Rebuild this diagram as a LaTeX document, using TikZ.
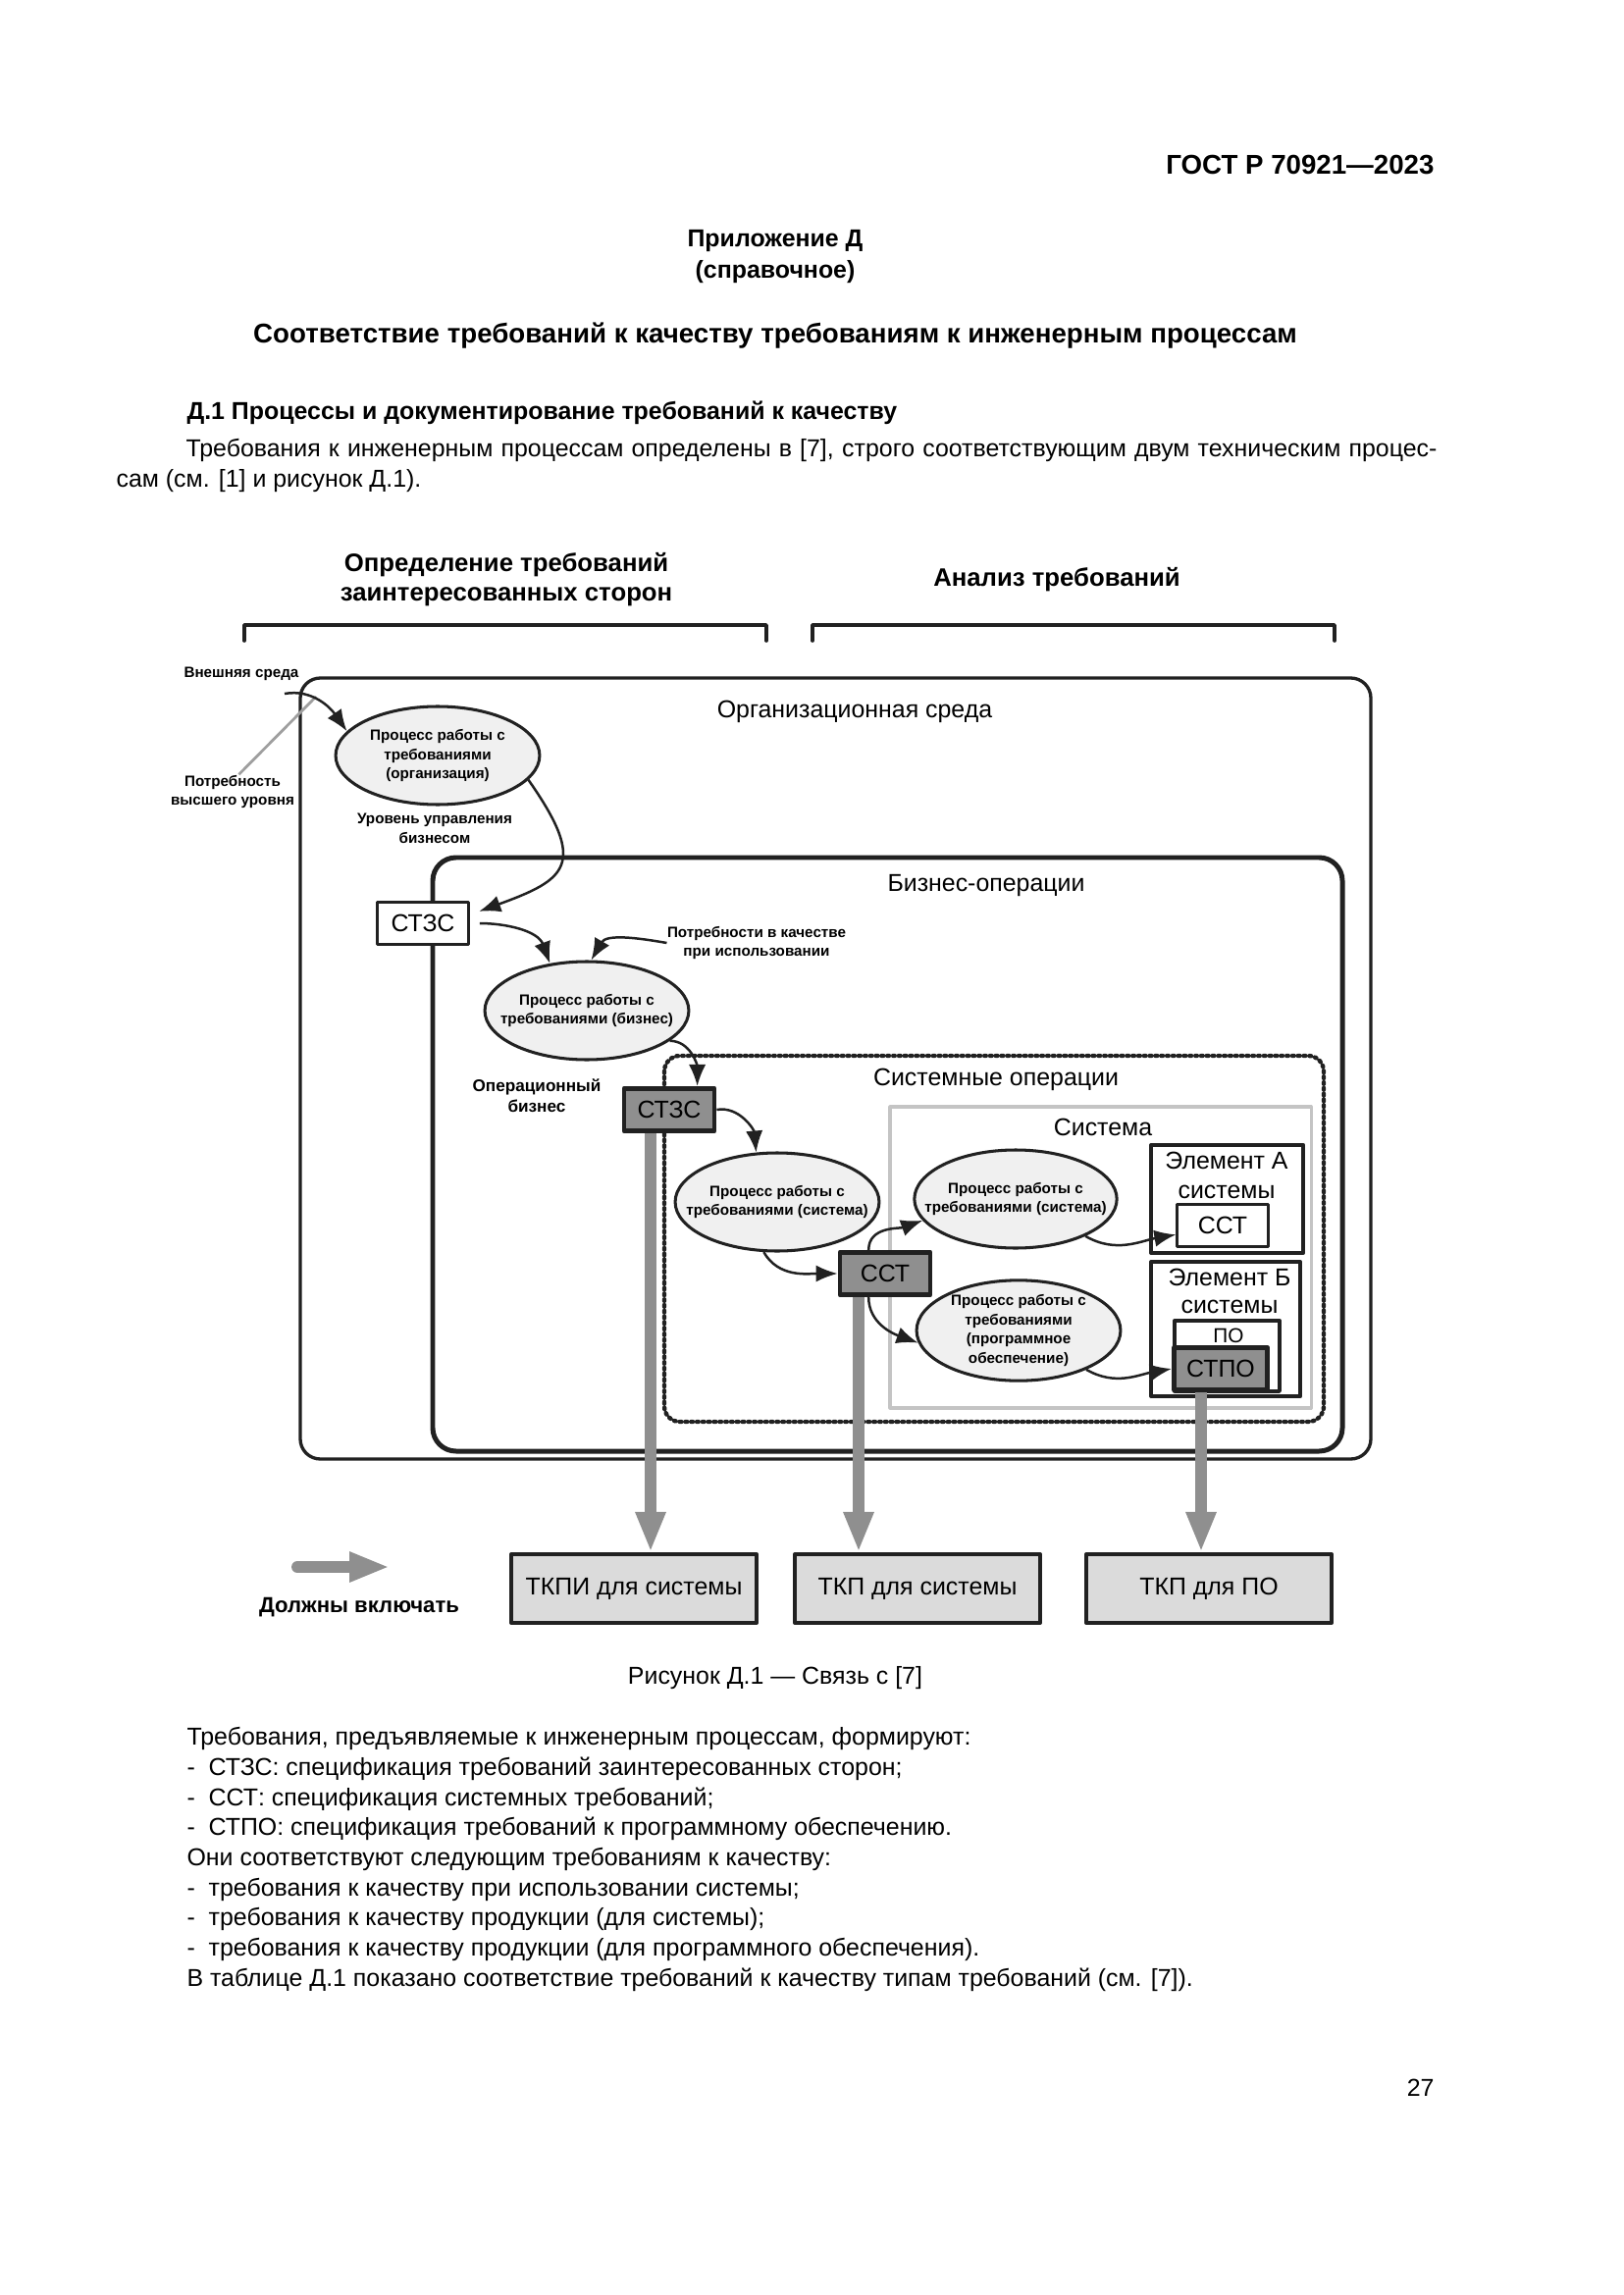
\documentclass[tikz,border=0pt]{standalone}
\usepackage{fontspec}
\setmainfont{Liberation Sans}
\usetikzlibrary{shapes.geometric,arrows.meta}
\definecolor{procfill}{gray}{0.94}
\definecolor{specfill}{gray}{0.56}
\definecolor{outfill}{gray}{0.86}
\definecolor{arrowgrey}{gray}{0.56}
\definecolor{sysgrey}{gray}{0.77}
\definecolor{inkblack}{gray}{0.13}
\begin{document}
\begin{tikzpicture}[x=0.127mm,y=-0.127mm,line join=round,
  procnode/.style={ellipse,draw=inkblack,fill=procfill,line width=1.1pt,inner xsep=-3.2mm,inner ysep=-0.6mm,align=center,
    font=\bfseries\fontsize{5.5}{7.2}\selectfont,minimum width=26.4mm,minimum height=12.7mm},
  specbox/.style={rectangle,draw=inkblack,fill=white,line width=1.1pt,inner sep=0pt,
    minimum width=11.7mm,minimum height=5.5mm,font=\fontsize{9}{10}\selectfont},
  specgrey/.style={fill=specfill,line width=1.7pt},
  notelbl/.style={align=center,inner sep=0pt,font=\bfseries\fontsize{5.5}{7.2}\selectfont},
  arealbl/.style={align=center,inner sep=0pt,font=\fontsize{9}{10.8}\selectfont},
  headlbl/.style={align=center,inner sep=0pt,font=\bfseries\fontsize{9.3}{10.8}\selectfont},
  outbox/.style={rectangle,draw=inkblack,fill=outfill,line width=1.5pt,inner sep=0pt,
    minimum width=31.7mm,minimum height=8.9mm,font=\fontsize{9}{10}\selectfont},
  bodytxt/.style={inner sep=0pt,anchor=west,font=\fontsize{9}{11}\selectfont},
  flowarrow/.style={draw=inkblack,line width=0.9pt,-{Latex[length=2.8mm,width=2.2mm]}},
  inclarrow/.style={draw=arrowgrey,line width=4.3pt,-{Triangle[length=5.2mm,width=3.6mm]}}]
\useasboundingbox (0,0) rectangle (1654,2339);

% page text above the figure
\node[inner sep=0pt,anchor=east,font=\bfseries\fontsize{10}{12}\selectfont] (gost) at (1462,168) {ГОСТ Р 70921—2023};
\node[inner sep=0pt,font=\bfseries\fontsize{9}{11}\selectfont] (annex) at (790,246) {Приложение Д};
\node[inner sep=0pt,font=\bfseries\fontsize{9}{11}\selectfont] (annexkind) at (790,277) {(справочное)};
\node[inner sep=0pt,font=\bfseries\fontsize{10}{12}\selectfont] (annextitle) at (790,342) {Соответствие требований к качеству требованиям к инженерным процессам};
\node[bodytxt,font=\bfseries\fontsize{9}{11}\selectfont] (sect) at (190,421) {Д.1 Процессы и документирование требований к качеству};
\node[bodytxt] (para1) at (189,459) {\makebox[161.9mm][s]{Требования к инженерным процессам определены в [7], строго соответствующим двум техническим процес-}};
\node[bodytxt] (para2) at (118,490) {сам (см. [1] и рисунок Д.1).};

% brackets and headings
\node[headlbl] (stakedef) at (516,591) {Определение требований\\заинтересованных сторон};
\node[headlbl] (reqanal) at (1077,591) {Анализ требований};
\draw[inkblack,line width=1.3pt,line cap=round](249,653)--(249,637)--(781,637)--(781,653);
\draw[inkblack,line width=1.3pt,line cap=round](828,653)--(828,637)--(1360,637)--(1360,653);

% nested environments
\draw[inkblack,line width=1.2pt,rounded corners=2.6mm](306,691) rectangle (1397,1487);
\draw[inkblack,line width=1.8pt,rounded corners=3mm](441,874) rectangle (1368,1479);
\draw[inkblack,line width=1.6pt,line cap=round,dash pattern=on 0.6pt off 1.5pt,rounded corners=2mm](677,1076) rectangle (1349,1449);
\draw[sysgrey,line width=1.1pt](907,1128) rectangle (1336,1435);
\draw[inkblack,line width=1.5pt](1173,1167) rectangle (1328,1277);
\draw[inkblack,line width=1.5pt](1173,1286) rectangle (1325,1423);
\draw[inkblack,line width=1.2pt](1197,1346) rectangle (1304,1418);

\node[arealbl] (orgenv) at (871,725) {Организационная среда};
\node[arealbl] (bizops) at (1005,903) {Бизнес-операции};
\node[arealbl] (sysops) at (1015,1100) {Системные операции};
\node[arealbl] (system) at (1124,1149) {Система};
\node[arealbl] (elemA) at (1250,1198) {Элемент А\\системы};
\node[arealbl,font=\fontsize{9}{10.1}\selectfont] (elemB) at (1253,1316) {Элемент Б\\системы};
\node[arealbl,font=\fontsize{7.5}{9}\selectfont] (swlbl) at (1252,1361) {ПО};

% notes
\node[notelbl] (extenv) at (246,687) {Внешняя среда};
\node[notelbl] (hneed) at (237,807) {Потребность\\высшего уровня};
\node[notelbl] (bizlvl) at (443,844) {Уровень управления\\бизнесом};
\node[notelbl] (qneeds) at (771,961) {Потребности в качестве\\при использовании};
\node[notelbl,font=\bfseries\fontsize{6.2}{7.6}\selectfont] (opbiz) at (547,1117) {Операционный\\бизнес};

% processes
\node[procnode] (orgproc) at (446,770) {Процесс работы с\\требованиями\\(организация)};
\node[procnode] (bizproc) at (598,1030) {Процесс работы с\\требованиями (бизнес)};
\node[procnode] (sysproc) at (792,1225) {Процесс работы с\\требованиями (система)};
\node[procnode,minimum width=26.2mm] (sysprocA) at (1035,1222) {Процесс работы с\\требованиями (система)};
\node[procnode,minimum height=13mm,inner ysep=-1.2mm] (swproc) at (1038,1356) {Процесс работы с\\требованиями\\(программное\\обеспечение)};

% specifications
\node[specbox] (stzsW) at (431,941) {СТЗС};
\node[specbox,specgrey] (stzsG) at (682,1131) {СТЗС};
\node[specbox,specgrey] (sstG) at (902,1298) {ССТ};
\node[specbox] (sstA) at (1246,1249) {ССТ};
\node[specbox,specgrey,minimum width=12.1mm] (stpo) at (1244,1395) {СТПО};

% results
\node[outbox] (tkpi) at (646,1619) {ТКПИ для системы};
\node[outbox] (tkps) at (935,1619) {ТКП для системы};
\node[outbox] (tkpsw) at (1232,1619) {ТКП для ПО};

% flows
\coordinate (extin) at (290,707);
\coordinate (hneedend) at (322,710);
\draw[gray!75,line width=1pt](hneed.70)--(hneedend);
\draw[flowarrow](extin) to[out=10,in=125] (orgproc.165);
\draw[flowarrow,shorten >=1.3mm,looseness=1.8](orgproc.-15) to[out=-55,in=20] ([yshift=1.1mm]stzsW.east);
\draw[flowarrow,shorten <=1.3mm](stzsW.east) to[out=0,in=110] (bizproc.128);
\draw[flowarrow](qneeds.west) to[out=170,in=60] (bizproc.85);
\draw[flowarrow](bizproc.-20) to[out=0,in=90] (stzsG.40);
\draw[flowarrow](stzsG.east) to[out=10,in=95] (sysproc.113);
\draw[flowarrow](sysproc.-105) to[out=-60,in=180] (sstG.west);
\draw[flowarrow](sstG.125) to[out=90,in=200] (sysprocA.193);
\draw[flowarrow](sstG.235) to[out=-90,in=160] (swproc.187);
\draw[flowarrow](sysprocA.-28) to[out=-30,in=190] (sstA.191);
\draw[flowarrow](swproc.-30) to[out=-30,in=190] (stpo.west);

% "must include" arrows
\draw[inclarrow](663,0 |- stzsG.south)--(663,0 |- tkpi.north);
\draw[inclarrow](875,0 |- sstG.south)--(875,0 |- tkps.north);
\draw[inclarrow](1224,0 |- stpo.south)--(1224,0 |- tkpsw.north);
\coordinate (legS) at (303,1597);
\coordinate (legE) at (397,1597);
\draw[inclarrow,line cap=round](legS)--(legE);
\node[inner sep=0pt,font=\bfseries\fontsize{8}{9}\selectfont] (mustinc) at (366,1638) {Должны включать};

% page text below the figure
\node[inner sep=0pt,font=\fontsize{9}{10}\selectfont] (caption) at (790,1710) {Рисунок Д.1 — Связь с [7]};
\node[bodytxt] (list1) at (190,1772) {Требования, предъявляемые к инженерным процессам, формируют:};
\node[bodytxt] (list2) at (190,1803) {-~~СТЗС: спецификация требований заинтересованных сторон;};
\node[bodytxt] (list3) at (190,1834) {-~~ССТ: спецификация системных требований;};
\node[bodytxt] (list4) at (190,1864) {-~~СТПО: спецификация требований к программному обеспечению.};
\node[bodytxt] (list5) at (190,1895) {Они соответствуют следующим требованиям к качеству:};
\node[bodytxt] (list6) at (190,1926) {-~~требования к качеству при использовании системы;};
\node[bodytxt] (list7) at (190,1956) {-~~требования к качеству продукции (для системы);};
\node[bodytxt] (list8) at (190,1987) {-~~требования к качеству продукции (для программного обеспечения).};
\node[bodytxt] (list9) at (190,2018) {В таблице Д.1 показано соответствие требований к качеству типам требований (см. [7]).};
\node[inner sep=0pt,anchor=east,font=\fontsize{9}{11}\selectfont] (pagenum) at (1462,2128) {27};
\end{tikzpicture}
\end{document}
